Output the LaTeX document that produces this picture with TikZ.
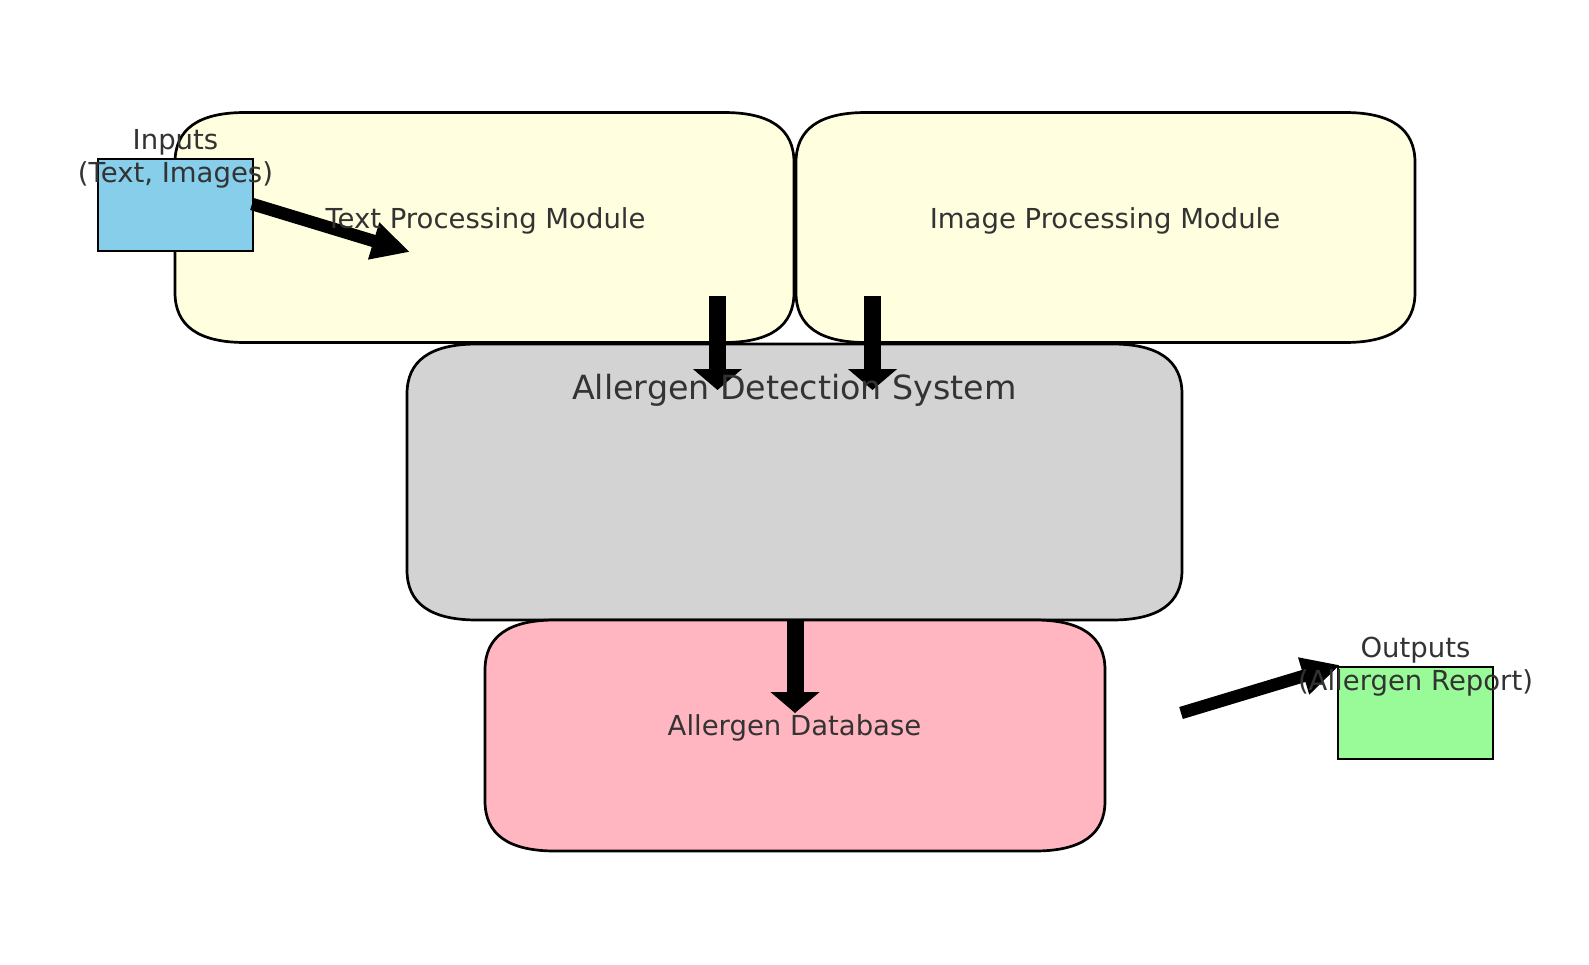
\documentclass[tikz,border=0pt]{standalone}
\usepackage{fontspec}
\setmainfont{DejaVu Sans}
\usetikzlibrary{arrows.meta}
\definecolor{lyellow}{HTML}{FFFFE0}
\definecolor{lgray}{HTML}{D3D3D3}
\definecolor{lpink}{HTML}{FFB6C1}
\definecolor{skyb}{HTML}{87CEEB}
\definecolor{pgreen}{HTML}{98FB98}
\definecolor{txt}{HTML}{333333}
\newcommand\rrbox[2]{\draw[boxline,fill=#2]
 ([xshift=70pt]#1.north west) -- ([xshift=-70pt]#1.north east)
 .. controls ([xshift=-23.33pt]#1.north east) and ([yshift=-16.67pt]#1.north east) .. ([yshift=-50pt]#1.north east)
 -- ([yshift=50pt]#1.south east)
 .. controls ([yshift=16.67pt]#1.south east) and ([xshift=-23.33pt]#1.south east) .. ([xshift=-70pt]#1.south east)
 -- ([xshift=70pt]#1.south west)
 .. controls ([xshift=23.33pt]#1.south west) and ([yshift=16.67pt]#1.south west) .. ([yshift=50pt]#1.south west)
 -- ([yshift=-50pt]#1.north west)
 .. controls ([yshift=-16.67pt]#1.north west) and ([xshift=23.33pt]#1.north west) .. ([xshift=70pt]#1.north west) -- cycle;}
\begin{document}
\begin{tikzpicture}[x=1pt,y=-1pt,
  boxline/.style={draw=black,line width=2.7pt,line join=round},
  area/.style={rectangle,inner sep=0pt,outer sep=0pt},
  sqbox/.style={area,draw=black,line width=2.7pt},
  lbl/.style={text=txt,font=\fontsize{27.5}{33}\selectfont,inner sep=0pt,align=center},
  biglbl/.style={text=txt,font=\fontsize{33.3}{40}\selectfont,inner sep=0pt},
  fatv/.style={line width=17pt,-{Triangle[width=48pt,length=21pt]}},
  fatd/.style={line width=12.5pt,-{Triangle[width=36pt,length=38pt]}}]
\fill[white] (0,0) rectangle (1589,964);
\useasboundingbox (0,0) rectangle (1589,964);
% box areas
\node[area,minimum width=619pt,minimum height=230pt] (tpm) at (484.5,227.5) {};
\node[area,minimum width=619pt,minimum height=230pt] (ipm) at (1105.5,227.5) {};
\node[area,minimum width=775pt,minimum height=276pt] (ads) at (794.5,482) {};
\node[area,minimum width=620pt,minimum height=231pt] (adb) at (795,735.5) {};
\rrbox{tpm}{lyellow}
\rrbox{ipm}{lyellow}
\rrbox{ads}{lgray}
\rrbox{adb}{lpink}
\node[sqbox,fill=skyb,minimum width=155pt,minimum height=92pt] (inp) at (175.5,205) {};
\node[sqbox,fill=pgreen,minimum width=155pt,minimum height=92pt] (out) at (1415.5,713) {};
% arrow end points
\coordinate (a1s) at (252,204);
\coordinate (a1e) at (410,252);
\coordinate (a2s) at (717.5,296);
\coordinate (a2e) at (717.5,390);
\coordinate (a3s) at (872.5,296);
\coordinate (a3e) at (872.5,390);
\coordinate (a4s) at (795,619);
\coordinate (a4e) at (795,713);
\coordinate (a5s) at (1181,713);
\coordinate (a5e) at (1340,665);
\draw[fatd] (a1s) -- (a1e);
\draw[fatv] (a2s) -- (a2e);
\draw[fatv] (a3s) -- (a3e);
\draw[fatv] (a4s) -- (a4e);
\draw[fatd] (a5s) -- (a5e);
% labels
\node[lbl,anchor=base] (ltpm) at (485.5,228.3) {Text Processing Module};
\node[lbl,anchor=base] (lipm) at (1105,228.3) {Image Processing Module};
\node[biglbl,anchor=base] (lads) at (794.5,399.5) {Allergen Detection System};
\node[lbl,anchor=base] (ladb) at (794.5,735.7) {Allergen Database};
\node[lbl] (linp) at (inp.north) {Inputs\\(Text, Images)};
\node[lbl] (lout) at (out.north) {Outputs\\(Allergen Report)};
\end{tikzpicture}
\end{document}
